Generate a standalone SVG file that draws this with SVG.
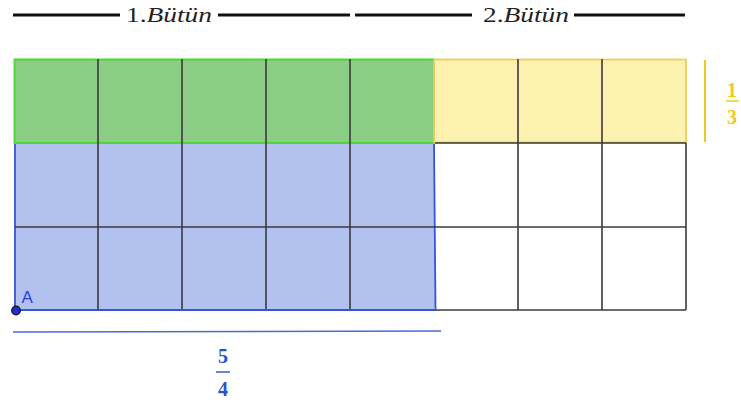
<svg xmlns="http://www.w3.org/2000/svg" width="741" height="403" viewBox="0 0 741 403">
  <style>
    .grid { stroke: #3a3a3a; stroke-width: 1.6; fill: none; }
    .head { stroke: #111; stroke-width: 3; }
    .title { font-family: "Liberation Serif", serif; font-size: 22px; fill: #222; }
    .frac-y { font-family: "Liberation Serif", serif; font-weight: bold; font-size: 20px; fill: #f2c81a; text-anchor: middle; }
    .frac-b { font-family: "Liberation Serif", serif; font-weight: bold; font-size: 20px; fill: #2a52c9; text-anchor: middle; }
  </style>

  <!-- headings over the two wholes -->
  <g id="headings">
    <line class="head" x1="13" y1="15" x2="120" y2="15"/>
    <text class="title" x="126" y="22" textLength="86" lengthAdjust="spacingAndGlyphs">1.<tspan font-style="italic">Bütün</tspan></text>
    <line class="head" x1="218" y1="15" x2="350" y2="15"/>
    <line class="head" x1="355" y1="15" x2="472" y2="15"/>
    <text class="title" x="483" y="22" textLength="86" lengthAdjust="spacingAndGlyphs">2.<tspan font-style="italic">Bütün</tspan></text>
    <line class="head" x1="574" y1="15" x2="685" y2="15"/>
  </g>

  <!-- shaded regions -->
  <g id="blue-region">
    <polygon points="15,143 434,143 435.5,310 15,310" fill="#b3c1ef" stroke="#3456d4" stroke-width="1.8"/>
  </g>
  <g id="green-region">
    <rect x="14.5" y="59.5" width="419.5" height="83.5" fill="#8bcd82" stroke="#4ed63b" stroke-width="2"/>
  </g>
  <g id="yellow-region">
    <rect x="434" y="59.5" width="252" height="83" fill="#fdf1b0" stroke="#e8cf5a" stroke-width="1.8"/>
  </g>

  <!-- grid lines -->
  <g id="grid">
    <line class="grid" x1="98" y1="59" x2="98" y2="310"/>
    <line class="grid" x1="182" y1="59" x2="182" y2="310"/>
    <line class="grid" x1="266" y1="59" x2="266" y2="310"/>
    <line class="grid" x1="350" y1="59" x2="350" y2="310"/>
    <line class="grid" x1="518" y1="59" x2="518" y2="310"/>
    <line class="grid" x1="602" y1="59" x2="602" y2="310"/>
    <line class="grid" x1="686" y1="143" x2="686" y2="310"/>
    <line class="grid" x1="15" y1="227" x2="435" y2="227"/>
    <line class="grid" x1="435" y1="143" x2="686" y2="143"/>
    <line class="grid" x1="435" y1="227" x2="686" y2="227"/>
    <line class="grid" x1="436" y1="310" x2="686" y2="310"/>
    <line x1="98" y1="310" x2="436" y2="310" stroke="#3456d4" stroke-width="1.8"/>
  </g>

  <!-- one third mark -->
  <g id="third">
    <line x1="705" y1="60" x2="705" y2="142" stroke="#f2c81a" stroke-width="2"/>
    <text class="frac-y" x="732" y="97">1</text>
    <line x1="726" y1="101" x2="739" y2="101" stroke="#f2c81a" stroke-width="1.4"/>
    <text class="frac-y" x="732" y="124">3</text>
  </g>

  <!-- five quarters mark -->
  <g id="five-quarters">
    <line x1="13" y1="332" x2="441" y2="331" stroke="#4a6ad6" stroke-width="1.6"/>
    <text class="frac-b" x="223" y="363">5</text>
    <line x1="216" y1="372" x2="230" y2="372" stroke="#2a52c9" stroke-width="1.4"/>
    <text class="frac-b" x="223" y="396">4</text>
  </g>

  <!-- point A -->
  <g id="point-A">
    <circle cx="16" cy="310.5" r="4.3" fill="#1a2ee0" stroke="#111" stroke-width="1.2"/>
    <text x="21.5" y="303" font-family="Liberation Sans, sans-serif" font-size="17" fill="#2a3ee0">A</text>
  </g>
</svg>
